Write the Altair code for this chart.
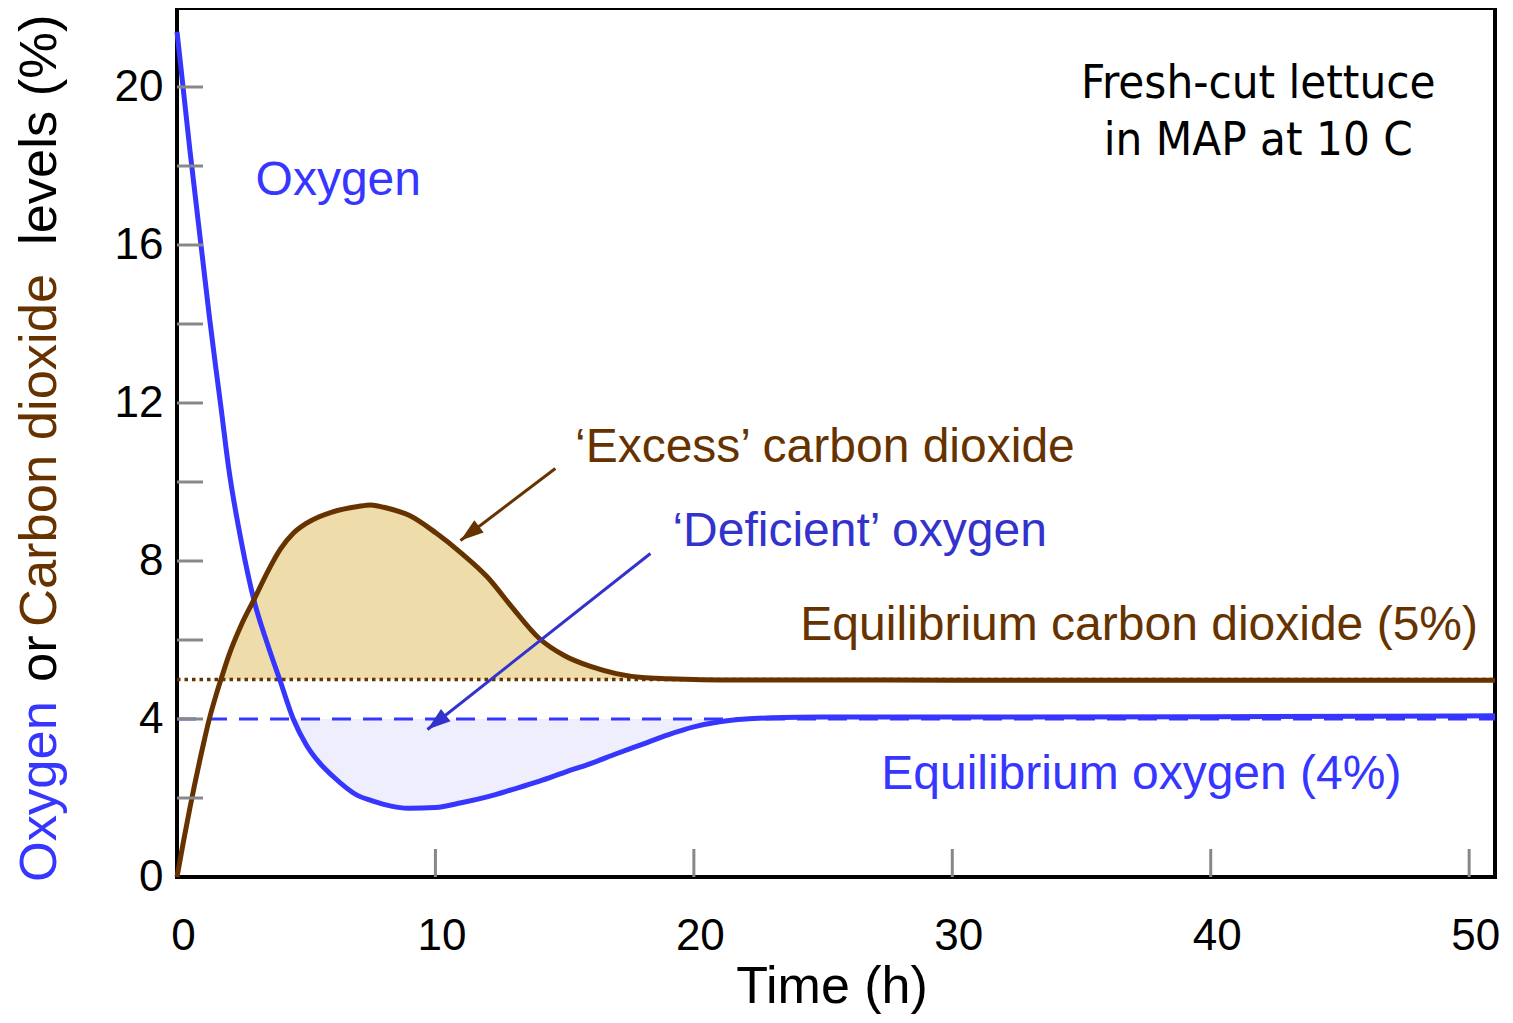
import altair as alt
import pandas as pd

# ---------------- data ----------------
time_h = [0, 0.25, 0.5, 1.0, 1.25, 1.5, 1.7, 2.0, 2.5, 3.0, 3.5,
          4.0, 4.5, 5.0, 5.5, 6.0, 7.0, 7.5, 8.0, 9.0, 10.0,
          11.0, 12.0, 13.0, 14.0, 15.0, 16.0, 17.0, 18.0, 19.0, 20.0,
          21.0, 22.0, 23.0, 25.0, 30.0, 40.0, 51.0]
oxygen = [21.4, 19.9, 18.4, 15.6, 14.2, 12.9, 11.9, 10.35, 8.45, 6.95, 5.9,
          4.95, 4.0, 3.35, 2.9, 2.57, 2.06, 1.94, 1.84, 1.74, 1.76,
          1.88, 2.03, 2.22, 2.42, 2.65, 2.87, 3.12, 3.36, 3.6, 3.8,
          3.93, 4.0, 4.03, 4.05, 4.05, 4.06, 4.08]
carbon_dioxide = [0, 0.9, 1.75, 3.3, 4.0, 4.58, 5.0, 5.6, 6.4, 7.05, 7.72,
                  8.3, 8.7, 8.95, 9.12, 9.24, 9.38, 9.42, 9.36, 9.15, 8.72,
                  8.2, 7.6, 6.8, 6.05, 5.6, 5.33, 5.15, 5.05, 5.02, 5.0,
                  4.99, 4.99, 4.99, 4.99, 4.98, 4.98, 4.98]
equilibrium_o2 = 4
equilibrium_co2 = 5

x_label_values = [0, 10, 20, 30, 40, 50]
x_tick_values = [10, 20, 30, 40, 50]
y_label_values = [0, 4, 8, 12, 16, 20]
y_tick_values = [2, 4, 6, 8, 10, 12, 14, 16, 18, 20]

# ---------------- derived tables ----------------
curves = pd.DataFrame({"t": time_h, "o2": oxygen, "co2": carbon_dioxide})
curves["co2_excess"] = curves["co2"].clip(lower=equilibrium_co2)
curves["o2_deficit"] = curves["o2"].clip(upper=equilibrium_o2)
curves["eq_co2"] = equilibrium_co2
curves["eq_o2"] = equilibrium_o2
xticks = pd.DataFrame({"t": x_tick_values})
yticks = pd.DataFrame({"v": y_tick_values})
one = pd.DataFrame({"k": [0]})

# ---------------- styling ----------------
W, H = 1318, 869
FONT = "Liberation Sans"
BLUE = "#3636ff"
DBLUE = "#3333cc"
BROWN = "#663300"

xs = alt.Scale(domain=[0, 51], nice=False, zero=False)
ys = alt.Scale(domain=[0, 22], nice=False, zero=False)
x_axis = alt.Axis(values=x_label_values, ticks=False, domain=False, grid=False,
                  labelFont=FONT, labelFontSize=44, labelColor="black",
                  labelPadding=37, labelOffset=6, labelFlush=False,
                  labelOverlap=False, title=None)
y_axis = alt.Axis(values=y_label_values, ticks=False, domain=False, grid=False,
                  labelFont=FONT, labelFontSize=44, labelColor="black",
                  labelPadding=14, labelFlush=False, labelOverlap=False,
                  title=None)


def X(field="t"):
    return alt.X(f"{field}:Q", scale=xs, axis=x_axis)


def Y(field):
    return alt.Y(f"{field}:Q", scale=ys, axis=y_axis)


def XD(v):
    return alt.XDatum(v, scale=xs, axis=x_axis)


def YD(v):
    return alt.YDatum(v, scale=ys, axis=y_axis)


base = alt.Chart(curves)

excess = base.mark_area(color="#eeddaa", interpolate="monotone").encode(
    x=X(), y=Y("co2_excess"), y2="eq_co2:Q")
deficit = base.mark_area(color="#eeeefc", interpolate="monotone").encode(
    x=X(), y=Y("o2_deficit"), y2="eq_o2:Q")

dotted = alt.Chart(one).mark_rule(color=BROWN, strokeWidth=3.5, strokeDash=[3.5, 4]).encode(
    y=YD(equilibrium_co2), x=alt.value(0), x2=alt.value(W))
dashed = alt.Chart(one).mark_rule(color=BLUE, strokeWidth=3, strokeDash=[19, 12]).encode(
    y=YD(equilibrium_o2), x=alt.value(0), x2=alt.value(W))

o2_line = base.mark_line(color=BLUE, strokeWidth=5, interpolate="monotone").encode(
    x=X(), y=Y("o2"))
co2_line = base.mark_line(color=BROWN, strokeWidth=5, interpolate="monotone").encode(
    x=X(), y=Y("co2"))

xtick_marks = alt.Chart(xticks).mark_rule(color="#888888", strokeWidth=3).encode(
    x=X(), y=alt.value(H), y2=alt.value(H - 28))
ytick_marks = alt.Chart(yticks).mark_rule(color="#888888", strokeWidth=3).encode(
    y=Y("v"), x=alt.value(0), x2=alt.value(26))

ARROW = "M0,0L-0.4,1.2L0.4,1.2Z"


def arrow(t0, v0, t1, v1, color, angle):
    shaft = alt.Chart(one).mark_rule(color=color, strokeWidth=3).encode(
        x=XD(t0), y=YD(v0), x2=alt.datum(t1), y2=alt.datum(v1))
    head = alt.Chart(one).mark_point(shape=ARROW, filled=True, color=color, opacity=1,
                                     size=1500, angle=angle, strokeWidth=0).encode(
        x=XD(t1), y=YD(v1))
    return [shaft, head]


def label(txt, t, v, color, size=48, font=FONT, align="left"):
    return alt.Chart(one).mark_text(text=txt, color=color, fontSize=size, font=font,
                                    align=align, baseline="alphabetic").encode(
        x=XD(t), y=YD(v))


def ytitle(txt, py, color):
    return alt.Chart(one).mark_text(text=txt, color=color, fontSize=52.5, font=FONT,
                                    angle=270, align="left", baseline="alphabetic").encode(
        x=alt.value(-121), y=alt.value(py))


layers = [excess, deficit, dotted, dashed, o2_line, co2_line, xtick_marks, ytick_marks]
layers += arrow(14.64, 10.34, 10.97, 8.52, BROWN, 232.8)
layers += arrow(18.32, 8.19, 9.69, 3.735, DBLUE, 232.1)
layers += [
    label("Oxygen", 3.04, 17.26, BLUE),
    label("\u2018Excess\u2019 carbon dioxide", 15.4, 10.5, BROWN),
    label("\u2018Deficient\u2019 oxygen", 19.17, 8.39, DBLUE),
    label("Equilibrium carbon dioxide (5%)", 24.12, 5.99, BROWN),
    label("Equilibrium oxygen (4%)", 27.25, 2.24, BLUE),
    label("Fresh-cut lettuce", 41.84, 19.71, "black", size=47,
          font="DejaVu Sans Condensed, DejaVu Sans", align="center"),
    label("in MAP at 10 C", 41.84, 18.27, "black", size=47,
          font="DejaVu Sans Condensed, DejaVu Sans", align="center"),
    ytitle("Oxygen", 874, BLUE),
    ytitle("or", 674, "black"),
    ytitle("Carbon dioxide", 619, BROWN),
    ytitle("levels (%)", 237, "black"),
    alt.Chart(one).mark_text(text="Time (h)", fontSize=52, font=FONT, color="black",
                             align="center", baseline="alphabetic").encode(
        x=alt.value(655), y=alt.value(995)),
]

chart = alt.layer(*layers).properties(
    width=W, height=H,
    autosize=alt.AutoSizeParams(type="none"),
    padding={"left": 169, "top": 0, "right": 10, "bottom": 138},
    background="white",
).configure_view(stroke="black", strokeWidth=4)

chart.save("out.html", embed_options={"renderer": "svg", "actions": False})
